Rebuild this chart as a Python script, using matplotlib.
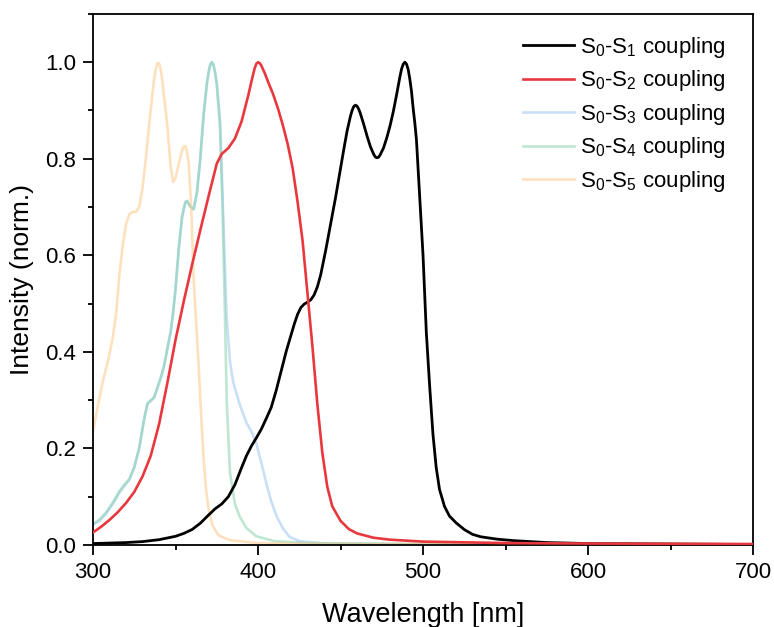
import matplotlib
matplotlib.use("Agg")
import matplotlib.pyplot as plt
from matplotlib.ticker import MultipleLocator

plt.rcParams['font.family'] = ['Liberation Sans', 'DejaVu Sans']
plt.rcParams['mathtext.default'] = 'regular'

# S0-S1 coupling
wl_s1 = [300, 310, 320, 330, 340, 350, 355, 360, 365, 370, 374, 378, 382, 386,
         390, 393, 396, 399, 402, 405, 408, 411, 414, 417, 420, 422, 424, 426,
         428, 430, 432, 434, 436, 438, 441, 444, 447, 450, 452, 454, 456, 457,
         458, 459, 460, 461, 462, 464, 466, 468, 470, 471, 472, 473, 474, 476,
         478, 480, 482, 484, 486, 487, 488, 489, 490, 491, 492, 493, 494, 495,
         496, 498, 500, 502, 504, 506, 508, 510, 513, 516, 520, 525, 530, 535,
         545, 555, 575, 600, 650, 700]
s1 = [0.003, 0.004, 0.005, 0.007, 0.011, 0.018, 0.024, 0.032, 0.045, 0.062,
      0.075, 0.085, 0.100, 0.125, 0.160, 0.185, 0.205, 0.222, 0.240, 0.262,
      0.285, 0.320, 0.360, 0.400, 0.435, 0.458, 0.478, 0.492, 0.499, 0.503,
      0.508, 0.518, 0.535, 0.560, 0.610, 0.665, 0.720, 0.780, 0.820, 0.858,
      0.888, 0.900, 0.908, 0.911, 0.909, 0.903, 0.894, 0.872, 0.848, 0.826,
      0.810, 0.804, 0.802, 0.803, 0.808, 0.822, 0.843, 0.868, 0.898, 0.933,
      0.970, 0.986, 0.996, 1.000, 0.996, 0.985, 0.965, 0.940, 0.905, 0.875,
      0.840, 0.720, 0.600, 0.440, 0.330, 0.230, 0.160, 0.115, 0.080, 0.060,
      0.046, 0.032, 0.022, 0.017, 0.012, 0.009, 0.005, 0.003, 0.002, 0.001]

# S0-S2 coupling
wl_s2 = [300, 305, 310, 315, 320, 325, 330, 335, 340, 345, 350, 355, 360, 365,
         370, 375, 378, 382, 386, 390, 394, 396, 398, 399, 400, 401, 402, 404,
         406, 409, 412, 415, 418, 421, 424, 427, 430, 433, 436, 439, 442, 445,
         450, 455, 460, 470, 480, 500, 550, 600, 700]
s2 = [0.026, 0.038, 0.052, 0.068, 0.087, 0.110, 0.142, 0.185, 0.250, 0.335,
      0.425, 0.505, 0.580, 0.652, 0.722, 0.790, 0.810, 0.822, 0.842, 0.877,
      0.930, 0.960, 0.988, 0.997, 1.000, 0.998, 0.993, 0.978, 0.960, 0.935,
      0.905, 0.870, 0.830, 0.780, 0.710, 0.630, 0.520, 0.410, 0.290, 0.190,
      0.120, 0.080, 0.050, 0.033, 0.024, 0.015, 0.011, 0.007, 0.004, 0.003,
      0.002]

# S0-S3 coupling
wl_s3 = [300, 304, 308, 312, 316, 319, 322, 325, 328, 331, 333, 335, 337, 339,
         341, 343, 345, 347, 348.5, 350, 352, 354, 356, 357, 359, 361, 363, 365,
         367, 369, 370, 371, 372, 373, 374, 375, 377, 379, 381, 383, 385, 389,
         393, 396, 399, 402, 405, 408, 411.5, 415, 419, 425, 440, 500, 700]
s3 = [0.042, 0.050, 0.065, 0.085, 0.108, 0.122, 0.135, 0.160, 0.200, 0.260,
      0.292, 0.298, 0.305, 0.325, 0.345, 0.370, 0.405, 0.440, 0.480, 0.530,
      0.615, 0.680, 0.710, 0.712, 0.700, 0.695, 0.730, 0.800, 0.890, 0.955,
      0.978, 0.994, 1.000, 0.994, 0.978, 0.955, 0.880, 0.670, 0.470, 0.380,
      0.336, 0.290, 0.253, 0.235, 0.210, 0.170, 0.128, 0.090, 0.058, 0.035,
      0.017, 0.008, 0.003, 0.001, 0.000]

# S0-S4 coupling
wl_s4 = [300, 304, 308, 312, 316, 319, 322, 325, 328, 331, 333, 335, 337, 339,
         341, 343, 345, 347, 348.5, 350, 352, 354, 356, 357, 359, 361, 363, 365,
         367, 369, 370, 371, 372, 373, 374, 375, 377, 378.5, 380, 381, 383, 386,
         389, 393, 399, 410, 430, 500, 700]
s4 = [0.044, 0.053, 0.068, 0.088, 0.112, 0.125, 0.137, 0.162, 0.202, 0.262,
      0.294, 0.300, 0.306, 0.326, 0.346, 0.371, 0.406, 0.441, 0.481, 0.531,
      0.616, 0.681, 0.711, 0.713, 0.701, 0.696, 0.731, 0.801, 0.891, 0.956,
      0.979, 0.995, 1.000, 0.994, 0.978, 0.955, 0.860, 0.700, 0.470, 0.300,
      0.150, 0.085, 0.058, 0.035, 0.018, 0.008, 0.004, 0.002, 0.001]

# S0-S5 coupling
wl_s5 = [300, 303, 306, 309, 312, 314, 316, 318, 320, 322, 324, 326, 328, 330,
         332, 334, 336, 337, 338, 339, 340, 341, 342, 343, 345, 347, 348.5, 350,
         352, 354, 355, 356, 357, 358, 359.5, 361, 362.5, 364, 365.5, 367,
         368.5, 370, 372.5, 376, 383, 400, 450, 700]
s5 = [0.235, 0.290, 0.340, 0.380, 0.430, 0.480, 0.560, 0.620, 0.665, 0.685,
      0.690, 0.690, 0.700, 0.740, 0.800, 0.870, 0.935, 0.965, 0.985, 0.998,
      0.998, 0.985, 0.962, 0.930, 0.870, 0.785, 0.752, 0.760, 0.790, 0.818,
      0.826, 0.826, 0.814, 0.790, 0.700, 0.550, 0.460, 0.370, 0.270, 0.180,
      0.115, 0.075, 0.040, 0.020, 0.010, 0.004, 0.002, 0.001]

fig = plt.figure(figsize=(7.74, 6.27), dpi=100)
ax = fig.add_axes([0.1202, 0.1308, 0.8527, 0.847])

ax.plot(wl_s1, s1, color='black', lw=2.0, label=r'S$_0$-S$_1$ coupling', zorder=4)
ax.plot(wl_s2, s2, color='#e8383d', lw=1.9, label=r'S$_0$-S$_2$ coupling', zorder=5)
ax.plot(wl_s3, s3, color='#9ec5f0', lw=1.9, alpha=0.55, label=r'S$_0$-S$_3$ coupling')
ax.plot(wl_s4, s4, color='#7fcfa5', lw=1.9, alpha=0.5, label=r'S$_0$-S$_4$ coupling')
ax.plot(wl_s5, s5, color='#fcc98a', lw=1.9, alpha=0.55, label=r'S$_0$-S$_5$ coupling')

ax.set_xlim(300, 700)
ax.set_ylim(0, 1.1)
ax.xaxis.set_major_locator(MultipleLocator(100))
ax.xaxis.set_minor_locator(MultipleLocator(50))
ax.yaxis.set_major_locator(MultipleLocator(0.2))
ax.yaxis.set_minor_locator(MultipleLocator(0.1))
ax.tick_params(which='major', direction='out', length=7, width=1.3, labelsize=16, pad=5)
ax.tick_params(which='minor', direction='out', length=3.5, width=1.3)
for s in ax.spines.values():
    s.set_linewidth(1.3)

ax.set_xlabel('Wavelength [nm]', fontsize=19.5, labelpad=14)
ax.set_ylabel('Intensity (norm.)', fontsize=19, labelpad=8)

ax.legend(loc='upper left', bbox_to_anchor=(0.6375, 0.977), frameon=False,
          fontsize=16, handlelength=2.3, handletextpad=0.3, labelspacing=0.38,
          borderaxespad=0)

fig.savefig('out.png', dpi=100)
